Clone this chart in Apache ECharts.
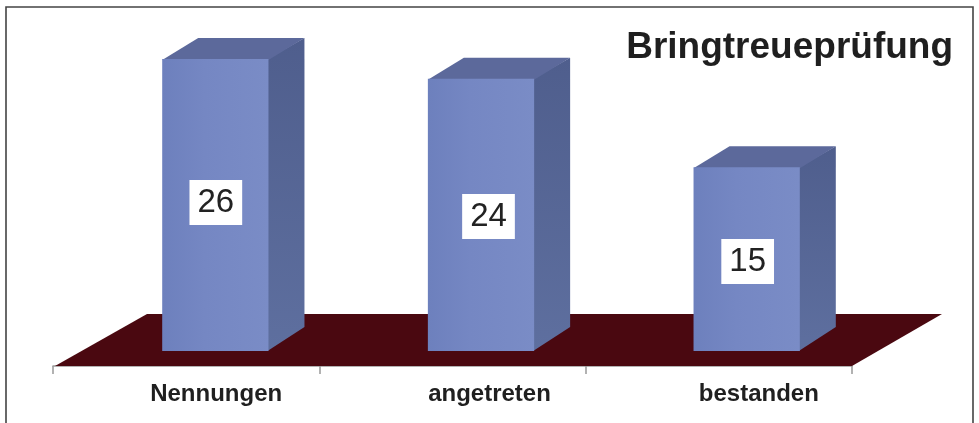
<!DOCTYPE html>
<html><head><meta charset="utf-8">
<style>html,body{margin:0;padding:0;background:#fff}#c{width:979px;height:423px}</style>
<script src="https://cdn.jsdelivr.net/npm/echarts@6/dist/echarts.min.js"></script>
</head><body><div id="c"></div>
<script>
const categories = ['Nennungen', 'angetreten', 'bestanden'];
const values = [26, 24, 15];
const titleText = 'Bringtreueprüfung';

const DX = 36, DY = 21;
const labelShift = [[0.5, -2.5], [7.5, 1.7], [1, 2.4]];
const axisLabelPad = [60, 74, 80];

const axisMin = -3.68;
const pxPerUnit = 9.84;
const barGridTop = 30, barGridBottomY = 351;

const chart = echarts.init(document.getElementById('c'), null, {renderer: 'canvas'});

function renderFloor(params, api) {
  const c = params.coordSys;
  const left = c.x, right = c.x + c.width, y = c.y + c.height;
  return {type: 'polygon', silent: true, shape: {points: [
    [left + 2, y], [right, y], [right + 90, y - 52], [left + 94, y - 52]
  ]}, style: {fill: '#4a0810'}};
}

function renderBar(params, api) {
  const i = api.value(0);
  const base = api.coord([i, axisMin]);
  const top = api.coord([i, api.value(1)]);
  const w = api.size([1, 0])[0] * 0.4;
  const x0 = base[0] - w / 2, x1 = base[0] + w / 2, y0 = base[1], yt = top[1];
  const sh = labelShift[params.dataIndex];
  return {type: 'group', children: [
    {type: 'polygon', shape: {points: [[x1 - 1, y0], [x1 + DX, y0 - DY - 3], [x1 + DX, yt - DY], [x1 - 1, yt]]},
      style: {fill: new echarts.graphic.LinearGradient(0, 0, 0, 1, [{offset: 0, color: '#4f5e8d'}, {offset: 1, color: '#5e6f9f'}])}},
    {type: 'polygon', shape: {points: [[x0, yt + 1], [x0 + DX, yt - DY], [x1 + DX, yt - DY], [x1, yt + 1]]},
      style: {fill: '#5c699b'}},
    {type: 'rect', shape: {x: x0, y: yt, width: w, height: y0 - yt},
      style: {fill: new echarts.graphic.LinearGradient(0, 0, 1, 0, [{offset: 0, color: '#6d80bd'}, {offset: 0.4, color: '#7587c3'}, {offset: 1, color: '#7a8cc6'}])}},
    {type: 'text', x: base[0] + sh[0], y: (yt + y0) / 2 + sh[1],
      style: {text: String(api.value(1)), fill: '#222', font: '33px "Liberation Sans"', align: 'center', verticalAlign: 'middle',
        backgroundColor: '#fff', padding: [11, 8, 1, 8]}}
  ]};
}

chart.setOption({
  animation: false,
  backgroundColor: '#fff',
  title: {text: titleText, right: 979 - 953, top: 29, padding: 0,
    textStyle: {fontFamily: 'Liberation Sans', fontWeight: 'bold', fontSize: 37, color: '#1f1f1f'}},
  graphic: [{type: 'rect', silent: true, shape: {x: 6, y: 7, width: 967, height: 430},
    style: {fill: 'none', stroke: '#444', lineWidth: 1.6}, z: 20}],
  grid: [
    {left: 53, width: 799, top: 300, height: 66},
    {left: 82.5, width: 797, top: barGridTop, height: barGridBottomY - barGridTop}
  ],
  xAxis: [
    {type: 'category', gridIndex: 0, data: categories, boundaryGap: true,
      axisLine: {lineStyle: {color: '#999', width: 1.5}},
      axisTick: {show: true, length: 8, alignWithLabel: false, lineStyle: {color: '#999', width: 1.5}},
      axisLabel: {interval: 0, margin: 16, color: '#1f1f1f',
        fontFamily: 'Liberation Sans', fontWeight: 'bold', fontSize: 24,
        formatter: (v, i) => `{s${i}|${v}}`,
        rich: Object.fromEntries(axisLabelPad.map((p, i) => ['s' + i, {
          fontFamily: 'Liberation Sans', fontWeight: 'bold', fontSize: 24, color: '#1f1f1f', padding: [0, 0, 0, p]}]))}},
    {type: 'category', gridIndex: 1, data: categories, show: false}
  ],
  yAxis: [
    {type: 'value', gridIndex: 0, show: false, min: 0, max: 1},
    {type: 'value', gridIndex: 1, show: false, min: axisMin, max: axisMin + (barGridBottomY - barGridTop) / pxPerUnit}
  ],
  series: [
    {type: 'custom', xAxisIndex: 0, yAxisIndex: 0, renderItem: renderFloor, data: [[0, 0]], z: 1, silent: true, clip: false},
    {type: 'custom', xAxisIndex: 1, yAxisIndex: 1, renderItem: renderBar, z: 2, silent: true, clip: false,
      encode: {x: 0, y: 1}, data: values.map((v, i) => [i, v])}
  ]
});
</script></body></html>
